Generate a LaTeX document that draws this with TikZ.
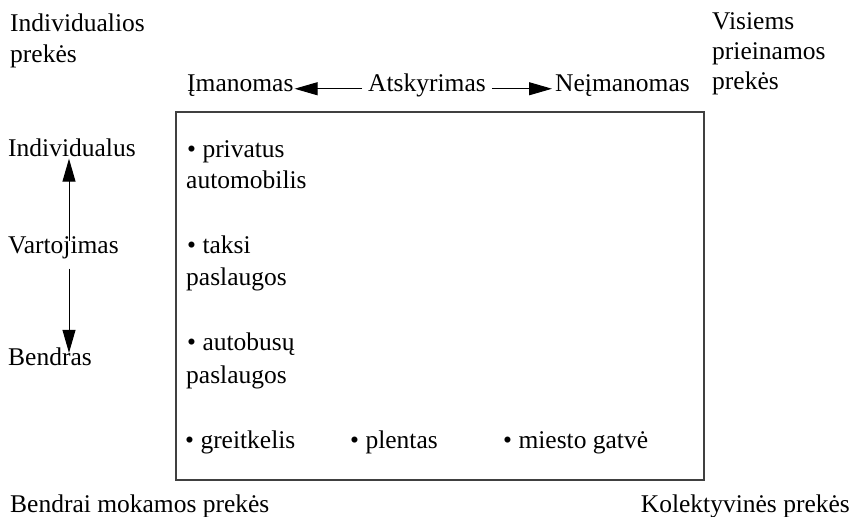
\documentclass[tikz,border=0pt]{standalone}
\usepackage{fontspec}
\setmainfont{Liberation Serif}
\usetikzlibrary{arrows.meta}
\begin{document}
\begin{tikzpicture}[x=1pt,y=-1pt,
  txt/.style={inner sep=0pt,anchor=base west,text height=0.7em,text depth=0.25em,
    font=\fontsize{25.5}{30}\selectfont},
  txtr/.style={txt,anchor=base east},
  arr/.style={-{Triangle[length=23pt,width=13pt]},line width=1pt},
  frame/.style={draw=black!75,line width=1.5pt}]
\useasboundingbox (0,0) rectangle (855,517);
% corner labels
\node[txt] (ind1) at (10,31) {Individualios};
\node[txt] (ind2) at (10,62) {prekės};
\node[txt] (vis1) at (712,29) {Visiems};
\node[txt] (vis2) at (712,59) {prieinamos};
\node[txt] (vis3) at (712,89) {prekės};
\node[txt] (bmp) at (10,512) {Bendrai mokamos prekės};
\node[txtr] (kol) at (850,512) {Kolektyvinės prekės};
% top axis
\node[txt] (iman) at (187,91) {Įmanomas};
\node[txt] (atsk) at (368,91) {Atskyrimas};
\node[txt] (neiman) at (555,91) {Neįmanomas};
\draw[arr,shorten <=6pt,shorten >=1pt] (atsk.west) -- (iman.east);
\draw[arr,shorten <=6pt,shorten >=3pt] (atsk.east) -- (neiman.west);
% left axis
\coordinate (vx) at (69,0);
\node[txt] (indiv) at (8,156) {Individualus};
\node[txt] (vart) at (8,253) {Vartojimas};
\node[txt] (bend) at (8,365) {Bendras};
\draw[arr,shorten <=5pt,shorten >=0pt] (vart.north -| vx) -- (indiv.south -| vx);
\draw[arr,shorten <=13pt,shorten >=5pt] (vart.south -| vx) -- (bend.north -| vx);
% box
\draw[frame] (176,112) rectangle (704,480);
\node[txt] (p1) at (187,157) {• privatus};
\node[txt] (p2) at (186,188) {automobilis};
\node[txt] (t1) at (187,253) {• taksi};
\node[txt] (t2) at (186,285) {paslaugos};
\node[txt] (a1) at (187,350) {• autobusų};
\node[txt] (a2) at (186,383) {paslaugos};
\node[txt] (g1) at (185,448) {• greitkelis};
\node[txt] (pl) at (350,448) {• plentas};
\node[txt] (mg) at (503,448) {• miesto gatvė};
\end{tikzpicture}
\end{document}
